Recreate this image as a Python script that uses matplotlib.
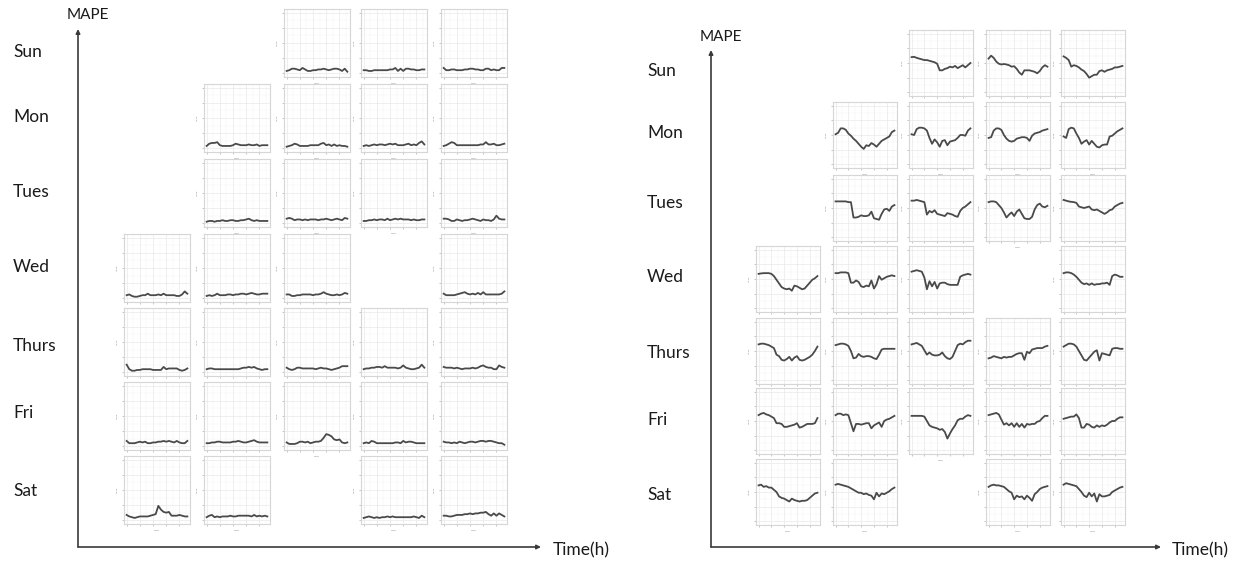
import matplotlib
matplotlib.use("Agg")
import matplotlib.pyplot as plt
import numpy as np

plt.rcParams['font.family'] = ['Lato', 'DejaVu Sans']

# ---------------- data ----------------
days = ["Sun", "Mon", "Tues", "Wed", "Thurs", "Fri", "Sat"]
hours = list(range(24))
y_ticks = [0, 1, 2, 3, 4]
x_ticks = [0, 5, 10, 15, 20]

# columns (1..5) present in each row
left_cols = {"Sun": [3, 4, 5], "Mon": [2, 3, 4, 5], "Tues": [2, 3, 4, 5],
             "Wed": [1, 2, 3, 5], "Thurs": [1, 2, 3, 4, 5],
             "Fri": [1, 2, 3, 4, 5], "Sat": [1, 2, 4, 5]}
right_cols = dict(left_cols)

# left chart: MAPE per hour for each small panel
left_sun = [
    [0.15,0.2,0.3,0.3,0.25,0.2,0.35,0.25,0.15,0.15,0.2,0.2,0.25,0.25,0.3,0.25,0.2,0.25,0.3,0.3,0.25,0.15,0.3,0.1],
    [0.2,0.2,0.15,0.15,0.2,0.2,0.2,0.2,0.2,0.2,0.25,0.25,0.35,0.15,0.3,0.15,0.3,0.3,0.25,0.25,0.2,0.2,0.25,0.25],
    [0.35,0.2,0.2,0.25,0.25,0.2,0.2,0.2,0.25,0.25,0.3,0.3,0.25,0.25,0.2,0.2,0.3,0.3,0.2,0.25,0.2,0.2,0.35,0.35],
]
left_mon = [
    [0.15,0.3,0.35,0.35,0.4,0.2,0.15,0.15,0.15,0.15,0.2,0.3,0.25,0.2,0.2,0.2,0.25,0.2,0.2,0.25,0.15,0.2,0.2,0.2],
    [0.1,0.15,0.2,0.3,0.25,0.15,0.15,0.15,0.15,0.2,0.2,0.2,0.2,0.3,0.35,0.2,0.25,0.15,0.25,0.15,0.2,0.15,0.15,0.1],
    [0.15,0.2,0.15,0.2,0.25,0.2,0.25,0.25,0.2,0.25,0.3,0.25,0.3,0.2,0.2,0.2,0.25,0.3,0.2,0.25,0.2,0.35,0.45,0.25],
    [0.15,0.2,0.3,0.4,0.35,0.2,0.2,0.2,0.2,0.2,0.2,0.2,0.2,0.2,0.25,0.25,0.4,0.25,0.25,0.3,0.2,0.2,0.25,0.3],
]
left_tues = [
    [0.1,0.15,0.15,0.1,0.15,0.15,0.2,0.15,0.15,0.2,0.2,0.15,0.15,0.2,0.2,0.25,0.3,0.2,0.15,0.2,0.15,0.15,0.15,0.15],
    [0.3,0.35,0.3,0.2,0.25,0.25,0.2,0.25,0.2,0.25,0.25,0.25,0.2,0.25,0.25,0.3,0.25,0.2,0.25,0.3,0.25,0.2,0.35,0.3],
    [0.15,0.15,0.2,0.2,0.25,0.2,0.25,0.25,0.2,0.3,0.2,0.25,0.3,0.25,0.3,0.25,0.25,0.25,0.2,0.25,0.2,0.2,0.25,0.25],
    [0.3,0.3,0.25,0.15,0.15,0.25,0.2,0.15,0.2,0.2,0.25,0.3,0.25,0.2,0.15,0.25,0.2,0.2,0.15,0.25,0.5,0.3,0.25,0.25],
]
left_wed = [
    [0.2,0.25,0.15,0.1,0.1,0.15,0.2,0.2,0.3,0.2,0.2,0.2,0.25,0.2,0.3,0.2,0.2,0.2,0.2,0.15,0.15,0.25,0.45,0.3],
    [0.15,0.2,0.15,0.2,0.3,0.2,0.2,0.2,0.25,0.25,0.2,0.25,0.25,0.3,0.3,0.25,0.3,0.35,0.3,0.25,0.25,0.3,0.3,0.3],
    [0.25,0.25,0.15,0.15,0.2,0.2,0.25,0.25,0.25,0.25,0.2,0.25,0.25,0.3,0.4,0.3,0.25,0.2,0.2,0.25,0.2,0.25,0.35,0.3],
    [0.3,0.2,0.2,0.2,0.2,0.25,0.3,0.35,0.4,0.3,0.25,0.3,0.25,0.35,0.25,0.4,0.25,0.25,0.25,0.25,0.25,0.25,0.3,0.45],
]
left_thurs = [
    [0.5,0.2,0.1,0.1,0.15,0.15,0.2,0.2,0.2,0.2,0.15,0.15,0.15,0.15,0.35,0.2,0.25,0.25,0.25,0.25,0.15,0.1,0.15,0.25],
    [0.2,0.25,0.25,0.2,0.2,0.2,0.2,0.2,0.2,0.2,0.2,0.2,0.2,0.25,0.3,0.3,0.35,0.3,0.35,0.25,0.2,0.15,0.2,0.2],
    [0.3,0.2,0.15,0.2,0.3,0.3,0.25,0.25,0.25,0.25,0.25,0.2,0.25,0.3,0.25,0.25,0.2,0.15,0.2,0.25,0.3,0.4,0.4,0.4],
    [0.2,0.25,0.25,0.3,0.3,0.35,0.35,0.3,0.4,0.3,0.3,0.3,0.3,0.25,0.3,0.45,0.3,0.25,0.2,0.2,0.25,0.3,0.5,0.3],
    [0.35,0.3,0.3,0.3,0.25,0.3,0.25,0.2,0.25,0.25,0.25,0.3,0.25,0.3,0.4,0.45,0.35,0.3,0.3,0.2,0.2,0.45,0.35,0.3],
]
left_fri = [
    [0.35,0.2,0.2,0.2,0.25,0.3,0.25,0.3,0.2,0.2,0.25,0.25,0.3,0.3,0.35,0.3,0.35,0.3,0.25,0.35,0.25,0.2,0.2,0.35],
    [0.2,0.2,0.25,0.25,0.3,0.3,0.25,0.25,0.25,0.25,0.3,0.3,0.35,0.3,0.25,0.25,0.3,0.35,0.4,0.3,0.25,0.25,0.25,0.25],
    [0.25,0.15,0.15,0.15,0.2,0.3,0.3,0.25,0.3,0.2,0.25,0.3,0.3,0.35,0.55,0.8,0.75,0.65,0.45,0.4,0.45,0.25,0.2,0.25],
    [0.2,0.25,0.2,0.35,0.3,0.2,0.2,0.2,0.2,0.2,0.2,0.2,0.25,0.25,0.2,0.35,0.25,0.3,0.3,0.25,0.2,0.2,0.2,0.2],
    [0.3,0.25,0.25,0.2,0.25,0.2,0.3,0.25,0.2,0.25,0.3,0.3,0.25,0.3,0.35,0.35,0.3,0.35,0.35,0.3,0.25,0.2,0.2,0.1],
]
left_sat = [
    [0.35,0.25,0.2,0.15,0.2,0.25,0.25,0.25,0.25,0.3,0.35,0.4,0.95,0.7,0.55,0.5,0.55,0.3,0.3,0.3,0.35,0.3,0.25,0.25],
    [0.2,0.3,0.35,0.2,0.25,0.2,0.25,0.25,0.25,0.3,0.25,0.25,0.3,0.3,0.3,0.3,0.3,0.25,0.35,0.25,0.3,0.25,0.3,0.25],
    [0.15,0.2,0.25,0.2,0.15,0.2,0.15,0.2,0.2,0.25,0.2,0.25,0.2,0.2,0.2,0.2,0.2,0.2,0.2,0.25,0.2,0.15,0.3,0.2],
    [0.3,0.3,0.25,0.25,0.3,0.35,0.35,0.35,0.4,0.4,0.45,0.4,0.45,0.45,0.5,0.5,0.55,0.4,0.3,0.45,0.3,0.45,0.35,0.25],
]

# right chart
right_sun = [
    [2.4,2.42,2.35,2.3,2.25,2.2,2.2,2.15,2.1,2.05,1.95,1.5,1.5,1.6,1.65,1.75,1.7,1.8,1.65,1.75,1.85,1.7,1.85,2.0],
    [2.3,2.5,2.35,2.1,1.95,1.9,1.93,1.9,1.85,1.75,1.78,1.6,1.35,1.2,1.5,1.5,1.5,1.45,1.4,1.3,1.45,1.7,1.85,1.75],
    [2.45,2.35,2.2,1.75,1.85,1.8,1.7,1.55,1.45,1.25,1.0,1.1,1.2,1.2,1.45,1.5,1.4,1.5,1.55,1.6,1.7,1.7,1.75,1.8],
]
right_mon = [
    [2.05,2.15,2.45,2.45,2.35,2.1,1.95,1.75,1.6,1.4,1.2,1.05,1.3,1.25,1.45,1.35,1.2,1.4,1.6,1.7,1.8,1.9,2.2,2.3],
    [2.05,2.0,2.4,2.5,2.5,2.45,2.3,1.8,1.4,1.7,1.5,1.2,1.6,1.65,1.3,1.55,1.6,1.65,1.8,2.0,2.0,1.95,2.3,2.45],
    [1.8,1.85,2.3,2.45,2.45,2.35,2.0,1.75,1.6,1.55,1.6,1.75,1.8,1.85,1.85,1.8,1.6,1.95,2.1,2.15,2.2,2.3,2.35,2.4],
    [1.9,1.8,2.4,2.5,2.45,2.1,1.8,1.4,1.55,1.65,1.35,1.6,1.4,1.2,1.15,1.3,1.35,1.35,1.9,1.95,2.1,2.25,2.35,2.45],
]
right_tues = [
    [2.45,2.45,2.45,2.45,2.45,2.4,2.4,1.35,1.35,1.4,1.5,1.45,1.45,1.5,1.75,1.3,1.25,1.2,1.6,1.9,1.95,1.8,2.1,2.2],
    [2.5,2.5,2.55,2.5,2.45,2.4,1.55,1.8,1.7,1.85,1.6,1.55,1.5,1.45,1.65,1.6,1.55,1.45,1.4,1.8,2.0,2.1,2.25,2.4],
    [2.4,2.45,2.45,2.4,2.2,2.0,1.7,1.35,1.55,1.7,1.45,1.75,1.9,1.6,1.3,1.25,1.25,1.4,1.9,2.2,2.3,2.1,2.05,2.15],
    [2.55,2.5,2.45,2.42,2.4,2.35,2.1,2.05,2.0,2.05,2.1,1.9,1.85,1.9,1.8,1.7,1.6,1.7,1.85,1.9,2.1,2.2,2.3,2.35],
]
right_wed = [
    [2.35,2.38,2.4,2.4,2.4,2.35,2.2,1.95,1.7,1.45,1.35,1.3,1.35,1.2,1.55,1.5,1.4,1.3,1.35,1.55,1.75,1.95,2.05,2.2],
    [2.4,2.4,2.45,2.45,2.45,2.4,1.75,1.75,1.9,1.8,1.5,1.45,1.55,1.5,1.9,1.35,1.65,2.2,1.95,2.05,2.15,2.2,2.25,2.2],
    [2.5,2.55,2.6,2.55,2.5,2.1,1.3,1.85,1.5,1.8,1.35,1.7,1.75,1.75,1.65,1.6,1.6,1.6,1.6,2.15,2.25,2.3,2.35,2.3],
    [2.4,2.45,2.45,2.4,2.3,2.15,1.95,1.75,1.65,1.7,1.6,1.7,1.6,1.65,1.65,1.7,1.7,1.75,1.6,2.2,2.3,2.25,2.15,2.15],
]
right_thurs = [
    [2.45,2.5,2.5,2.45,2.4,2.3,2.2,1.75,1.65,1.4,1.35,1.45,1.6,1.35,1.55,1.65,1.4,1.35,1.4,1.5,1.6,1.75,2.0,2.3],
    [2.4,2.45,2.5,2.5,2.45,2.35,2.0,1.5,1.55,1.8,1.65,1.6,1.65,1.65,1.6,1.5,1.45,1.75,2.1,2.15,2.15,2.15,2.15,2.15],
    [2.45,2.5,2.55,2.45,2.35,2.05,1.75,1.9,1.75,1.7,1.7,1.75,1.9,1.65,1.5,1.45,1.6,2.0,2.4,2.5,2.45,2.6,2.7,2.7],
    [1.5,1.55,1.65,1.6,1.55,1.5,1.6,1.55,1.6,1.6,1.7,1.8,1.85,1.85,1.4,1.95,1.85,2.1,2.15,2.2,2.2,2.2,2.3,2.35],
    [2.3,2.4,2.5,2.5,2.45,2.3,2.0,1.7,1.4,1.35,1.55,1.75,1.95,2.05,1.35,1.85,1.8,1.75,1.7,2.15,2.2,2.2,2.15,2.15],
]
right_fri = [
    [2.4,2.5,2.55,2.45,2.4,2.3,2.2,1.85,1.85,1.8,1.6,1.6,1.65,1.7,1.75,1.85,1.55,1.6,1.7,1.8,1.8,1.8,1.85,2.2],
    [2.4,2.5,2.5,2.4,2.45,2.4,1.85,1.3,1.8,1.8,1.75,1.8,1.85,1.85,1.5,1.7,1.8,1.9,1.6,2.0,2.1,2.15,2.25,2.35],
    [2.35,2.35,2.35,2.35,2.35,2.3,2.0,1.7,1.6,1.55,1.5,1.4,1.45,1.25,0.8,1.15,1.45,1.7,2.05,2.15,2.15,2.3,2.4,2.35],
    [2.4,2.45,2.5,2.55,2.45,2.1,1.75,1.85,1.7,1.85,1.6,1.85,1.6,1.8,1.55,1.8,1.75,1.8,1.8,1.95,2.0,2.2,2.35,2.35],
    [2.15,2.2,2.25,2.3,2.3,2.45,2.2,1.55,1.55,1.8,1.75,1.6,1.55,1.7,1.6,1.7,1.65,1.75,1.9,2.0,2.0,2.15,2.25,2.25],
]
right_sat = [
    [2.45,2.5,2.35,2.4,2.3,2.3,2.15,2.0,1.7,1.6,1.55,1.45,1.35,1.55,1.45,1.4,1.35,1.4,1.4,1.45,1.6,1.75,1.9,1.95],
    [2.5,2.55,2.5,2.45,2.4,2.35,2.25,2.15,2.05,1.95,1.95,1.85,1.9,1.8,1.75,1.5,1.95,1.7,1.9,1.85,1.95,2.05,2.2,2.3],
    [2.35,2.45,2.5,2.45,2.45,2.4,2.35,2.2,2.05,1.95,1.5,1.75,1.65,1.7,1.5,1.75,1.6,1.4,1.85,2.0,2.2,2.3,2.35,2.4],
    [2.5,2.6,2.55,2.5,2.45,2.4,2.2,2.0,1.75,1.65,1.95,1.7,1.9,1.35,1.85,1.7,1.7,1.75,1.8,2.0,2.1,2.2,2.3,2.35],
]

left_data = dict(zip(days, [left_sun, left_mon, left_tues, left_wed, left_thurs, left_fri, left_sat]))
right_data = dict(zip(days, [right_sun, right_mon, right_tues, right_wed, right_thurs, right_fri, right_sat]))

# ---------------- layout ----------------
W, H = 1234, 562
fig = plt.figure(figsize=(W / 100, H / 100), dpi=100)

bg = fig.add_axes([0, 0, 1, 1])
bg.set_xlim(0, W)
bg.set_ylim(H, 0)
bg.axis('off')

def big_axes(x0, ytop, xend, mape_xy, time_xy, label_x, label_ys):
    arrow = dict(arrowstyle='-|>', color='#3a3a3a', lw=1.2, mutation_scale=6,
                 shrinkA=0, shrinkB=0)
    bg.annotate('', xy=(x0, ytop), xytext=(x0, 547), arrowprops=arrow)
    bg.annotate('', xy=(xend, 547), xytext=(x0, 547), arrowprops=arrow)
    bg.text(*mape_xy, 'MAPE', ha='center', va='center', fontsize=11, color='#1a1a1a')
    bg.text(*time_xy, 'Time(h)', ha='left', va='center', fontsize=12.5, color='#1a1a1a')
    for d, y in zip(days, label_ys):
        bg.text(label_x, y, d, ha='left', va='center', fontsize=12.5, color='#1a1a1a')

big_axes(78, 29, 541, (88, 15), (553, 550), 13, [52, 117, 192, 267, 346, 413, 491])
big_axes(711, 50, 1161, (721, 37), (1172, 550), 647, [71, 133, 203, 277, 353, 420, 495])

def small_panel(x, y, w, h, series, ybot=-0.25, ytop=4.25):
    ax = fig.add_axes([x / W, 1 - (y + h) / H, w / W, h / H])
    ax.plot(hours, series, color='#4a4a4a', lw=1.3, solid_joinstyle='round')
    ax.set_xlim(-1, 24)
    ax.set_ylim(ybot, ytop)
    ax.set_xticks(x_ticks)
    ax.set_yticks(y_ticks)
    ax.set_xticks(np.arange(0, 24, 2.5), minor=True)
    ax.set_yticks(np.arange(0, 4.01, 0.5), minor=True)
    ax.grid(True, which='major', color='#e9e9e9', lw=0.5)
    ax.grid(True, which='minor', color='#f3f3f3', lw=0.35)
    ax.tick_params(which='major', length=1.5, width=0.4, color='#999999',
                   labelleft=False, labelbottom=False, pad=0.5)
    ax.tick_params(which='minor', length=0)
    for s in ax.spines.values():
        s.set_color('#d6d6d6')
        s.set_linewidth(0.8)
    ax.set_ylabel('MAPE', fontsize=1.6, color='#888888', labelpad=1)
    ax.set_xlabel('Hours', fontsize=1.6, color='#888888', labelpad=1)
    ax.set_facecolor('white')
    return ax

left_x = [124, 204, 284, 361, 441]
left_y = [9, 84, 159, 234, 308, 382, 456]
right_x = [756, 833, 909, 986, 1061]
right_y = [30, 102, 175, 246, 318, 388, 459]

for ri, d in enumerate(days):
    for k, c in enumerate(left_cols[d]):
        small_panel(left_x[c - 1], left_y[ri], 66, 68, left_data[d][k])
    for k, c in enumerate(right_cols[d]):
        small_panel(right_x[c - 1], right_y[ri], 64, 66, right_data[d][k])

fig.savefig('out.png', dpi=100, facecolor='white')
